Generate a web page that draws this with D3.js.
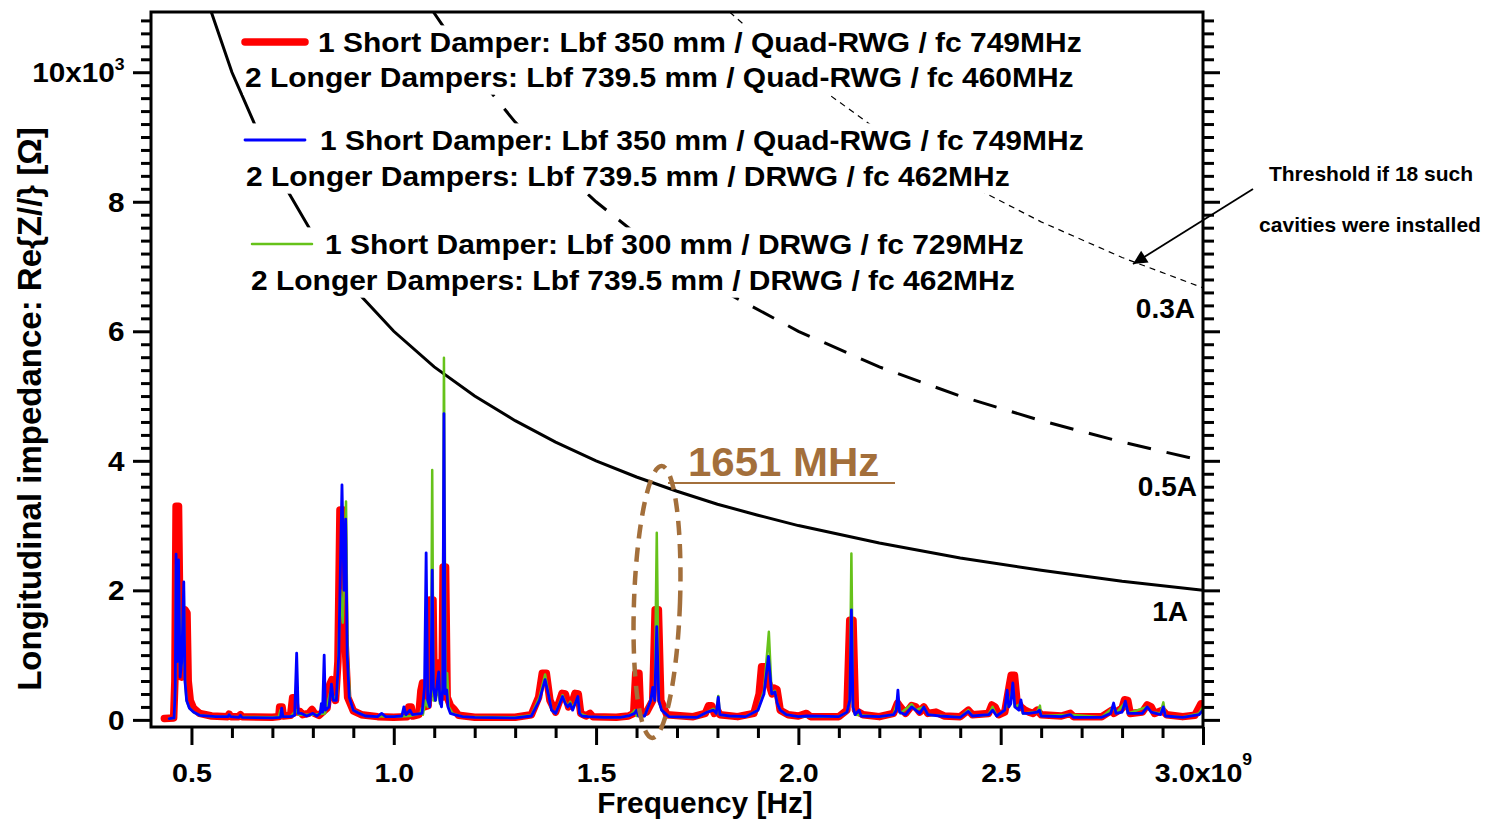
<!DOCTYPE html>
<html>
<head>
<meta charset="utf-8">
<script src="https://cdn.jsdelivr.net/npm/d3@7"></script>
<style>
body { margin: 0; background: #fff; }
text { font-family: "Liberation Sans", Arial, sans-serif; font-weight: bold; fill: #000; }
</style>
</head>
<body>
<svg id="chart" width="1497" height="822"></svg>
<script>
// frequency in GHz, Re{Z} in kOhm (axis shows x10^9 Hz / x10^3 Ohm)
var redShortQuad = [
 [0.433,0.02],[0.456,0.03],[0.459,0.6],[0.462,3.3],[0.468,3.3],[0.472,1.2],[0.476,0.66],[0.480,0.8],[0.484,1.7],[0.489,1.65],
 [0.492,0.6],[0.497,0.3],[0.505,0.18],[0.52,0.1],[0.55,0.06],[0.59,0.05],[0.593,0.09],[0.597,0.05],[0.617,0.05],[0.621,0.08],
 [0.625,0.05],[0.70,0.04],[0.716,0.05],[0.718,0.2],[0.724,0.2],[0.727,0.06],[0.745,0.07],[0.750,0.34],[0.755,0.34],[0.759,0.12],
 [0.768,0.13],[0.775,0.08],[0.790,0.1],[0.798,0.16],[0.804,0.1],[0.815,0.07],[0.835,0.18],[0.842,0.55],[0.847,0.62],[0.851,0.45],
 [0.856,0.3],[0.862,0.9],[0.867,3.24],[0.875,3.24],[0.879,1.3],[0.886,0.35],[0.90,0.14],[0.92,0.08],[0.96,0.05],[1.00,0.04],
 [1.033,0.05],[1.037,0.2],[1.043,0.2],[1.047,0.06],[1.062,0.08],[1.067,0.45],[1.071,0.57],[1.075,0.2],[1.085,0.22],[1.089,1.85],
 [1.097,1.85],[1.100,0.4],[1.104,0.8],[1.108,0.88],[1.115,0.88],[1.119,0.35],[1.122,2.36],[1.128,2.36],[1.132,0.35],[1.14,0.22],
 [1.148,0.17],[1.16,0.07],[1.20,0.04],[1.30,0.04],[1.34,0.08],[1.358,0.35],[1.367,0.72],[1.377,0.72],[1.386,0.3],[1.40,0.12],
 [1.410,0.3],[1.416,0.41],[1.424,0.4],[1.432,0.2],[1.440,0.25],[1.448,0.41],[1.456,0.4],[1.462,0.1],[1.475,0.06],[1.485,0.1],
 [1.492,0.05],[1.55,0.04],[1.58,0.06],[1.593,0.1],[1.598,0.72],[1.606,0.72],[1.610,0.1],[1.625,0.12],[1.640,0.3],[1.646,1.70],
 [1.654,1.70],[1.660,0.3],[1.675,0.08],[1.74,0.05],[1.77,0.1],[1.778,0.22],[1.786,0.22],[1.792,0.1],[1.80,0.15],[1.806,0.08],
 [1.85,0.05],[1.89,0.1],[1.903,0.4],[1.909,0.82],[1.917,0.82],[1.925,0.6],[1.935,0.4],[1.940,0.49],[1.947,0.47],[1.955,0.15],
 [1.975,0.08],[2.00,0.06],[2.02,0.1],[2.03,0.05],[2.10,0.05],[2.12,0.15],[2.127,1.54],[2.135,1.54],[2.141,0.15],[2.16,0.08],
 [2.20,0.05],[2.235,0.1],[2.245,0.26],[2.252,0.2],[2.265,0.1],[2.280,0.22],[2.290,0.2],[2.300,0.12],[2.310,0.2],[2.320,0.1],
 [2.340,0.12],[2.360,0.06],[2.40,0.05],[2.42,0.15],[2.43,0.08],[2.47,0.1],[2.478,0.23],[2.486,0.2],[2.495,0.08],[2.51,0.12],
 [2.522,0.55],[2.526,0.69],[2.534,0.69],[2.540,0.3],[2.55,0.2],[2.56,0.15],[2.57,0.12],[2.58,0.1],[2.59,0.15],[2.60,0.08],
 [2.65,0.06],[2.672,0.1],[2.68,0.05],[2.75,0.05],[2.775,0.15],[2.78,0.1],[2.80,0.18],[2.806,0.31],[2.814,0.3],[2.82,0.1],
 [2.85,0.12],[2.862,0.23],[2.872,0.2],[2.88,0.1],[2.90,0.15],[2.91,0.08],[2.95,0.05],[2.98,0.07],[2.995,0.25],[3.0,0.25]
];

var blueShortQuad = [
 [0.445,0.02],[0.457,0.03],[0.460,0.5],[0.462,2.56],[0.465,0.9],[0.468,2.47],[0.472,0.66],[0.476,0.9],[0.481,2.13],[0.484,0.6],
 [0.488,0.3],[0.495,0.18],[0.505,0.12],[0.52,0.07],[0.56,0.05],[0.59,0.05],[0.593,0.08],[0.597,0.05],[0.617,0.04],[0.621,0.07],
 [0.625,0.04],[0.70,0.03],[0.720,0.04],[0.723,0.18],[0.726,0.05],[0.745,0.05],[0.755,0.07],[0.760,1.03],[0.764,0.1],[0.772,0.1],
 [0.785,0.06],[0.800,0.1],[0.810,0.06],[0.818,0.1],[0.821,0.25],[0.824,0.12],[0.828,1.0],[0.831,0.15],[0.840,0.2],[0.846,0.55],
 [0.851,0.3],[0.858,0.3],[0.864,1.0],[0.872,3.63],[0.877,2.0],[0.881,3.1],[0.885,1.0],[0.890,0.35],[0.90,0.15],[0.915,0.1],
 [0.93,0.06],[0.96,0.05],[0.97,0.1],[0.98,0.05],[1.00,0.05],[1.02,0.06],[1.025,0.2],[1.03,0.08],[1.04,0.15],[1.046,0.08],
 [1.070,0.1],[1.076,0.5],[1.080,2.58],[1.084,0.3],[1.089,0.2],[1.092,0.5],[1.095,2.31],[1.098,0.5],[1.103,0.3],[1.108,0.6],
 [1.111,0.74],[1.114,0.3],[1.118,0.2],[1.121,0.5],[1.124,4.73],[1.127,0.4],[1.131,0.46],[1.134,0.2],[1.14,0.1],[1.15,0.08],
 [1.17,0.05],[1.20,0.04],[1.30,0.03],[1.34,0.06],[1.36,0.3],[1.374,0.62],[1.382,0.4],[1.39,0.15],[1.40,0.1],[1.41,0.25],
 [1.417,0.36],[1.424,0.25],[1.43,0.2],[1.436,0.25],[1.442,0.15],[1.455,0.36],[1.459,0.1],[1.465,0.06],[1.48,0.05],[1.52,0.04],
 [1.56,0.04],[1.58,0.06],[1.595,0.1],[1.60,0.15],[1.605,0.06],[1.62,0.06],[1.635,0.3],[1.640,0.5],[1.645,0.3],[1.650,1.44],
 [1.655,0.3],[1.662,0.15],[1.68,0.05],[1.75,0.04],[1.775,0.12],[1.79,0.15],[1.797,0.1],[1.802,0.35],[1.806,0.08],[1.83,0.06],
 [1.87,0.05],[1.90,0.15],[1.915,0.4],[1.926,0.98],[1.934,0.4],[1.942,0.43],[1.948,0.25],[1.955,0.15],[1.97,0.08],[2.00,0.05],
 [2.02,0.06],[2.10,0.05],[2.12,0.12],[2.127,0.3],[2.131,1.70],[2.135,0.2],[2.14,0.08],[2.15,0.15],[2.155,0.06],[2.20,0.05],
 [2.235,0.08],[2.242,0.15],[2.246,0.46],[2.250,0.12],[2.265,0.08],[2.28,0.2],[2.29,0.15],[2.30,0.1],[2.31,0.2],[2.32,0.08],
 [2.35,0.06],[2.40,0.04],[2.42,0.13],[2.43,0.06],[2.47,0.08],[2.48,0.15],[2.49,0.06],[2.51,0.15],[2.516,0.46],[2.520,0.2],
 [2.525,0.25],[2.530,0.57],[2.535,0.2],[2.545,0.15],[2.550,0.31],[2.555,0.1],[2.57,0.1],[2.59,0.12],[2.596,0.15],[2.60,0.06],
 [2.65,0.05],[2.672,0.08],[2.68,0.04],[2.75,0.04],[2.772,0.1],[2.779,0.26],[2.785,0.1],[2.80,0.12],[2.808,0.29],[2.815,0.1],
 [2.85,0.1],[2.862,0.2],[2.872,0.12],[2.895,0.08],[2.902,0.2],[2.907,0.06],[2.95,0.04],[2.99,0.08],[3.0,0.15]
];

var greenShortDrwg = [
 [0.445,0.02],[0.457,0.03],[0.460,0.5],[0.462,2.4],[0.465,0.9],[0.468,2.45],[0.472,0.7],[0.476,0.9],[0.481,2.0],[0.484,0.6],
 [0.488,0.3],[0.495,0.18],[0.505,0.12],[0.52,0.07],[0.56,0.05],[0.59,0.05],[0.593,0.08],[0.597,0.05],[0.70,0.04],[0.716,0.05],
 [0.720,0.15],[0.724,0.05],[0.745,0.05],[0.755,0.12],[0.760,0.15],[0.765,0.08],[0.80,0.08],[0.83,0.1],[0.846,0.5],[0.852,0.3],
 [0.860,0.4],[0.868,2.0],[0.874,1.5],[0.882,3.37],[0.886,1.0],[0.892,0.3],[0.90,0.15],[0.93,0.06],[1.00,0.05],[1.04,0.06],
 [1.066,0.1],[1.069,0.18],[1.072,0.08],[1.078,0.3],[1.084,0.2],[1.092,0.5],[1.095,3.86],[1.098,0.3],[1.104,0.3],[1.110,0.6],
 [1.114,0.25],[1.121,0.5],[1.124,5.59],[1.128,0.5],[1.132,0.72],[1.136,0.2],[1.145,0.1],[1.17,0.05],[1.30,0.04],[1.34,0.07],
 [1.36,0.35],[1.374,0.7],[1.382,0.42],[1.39,0.15],[1.40,0.1],[1.41,0.27],[1.417,0.38],[1.424,0.27],[1.43,0.2],[1.436,0.28],
 [1.442,0.18],[1.455,0.35],[1.459,0.1],[1.48,0.05],[1.56,0.04],[1.58,0.06],[1.592,0.12],[1.596,0.15],[1.60,0.06],[1.62,0.06],
 [1.635,0.3],[1.640,0.45],[1.645,0.3],[1.650,2.89],[1.655,0.3],[1.662,0.15],[1.68,0.05],[1.75,0.04],[1.775,0.12],[1.79,0.17],
 [1.797,0.1],[1.802,0.37],[1.806,0.08],[1.83,0.06],[1.87,0.05],[1.90,0.15],[1.915,0.45],[1.927,1.36],[1.934,0.4],[1.942,0.45],
 [1.948,0.25],[1.955,0.15],[1.97,0.08],[2.00,0.05],[2.10,0.05],[2.12,0.12],[2.127,0.3],[2.131,2.57],[2.135,0.2],[2.14,0.08],
 [2.20,0.05],[2.235,0.08],[2.246,0.3],[2.252,0.1],[2.28,0.24],[2.29,0.15],[2.31,0.2],[2.32,0.08],[2.40,0.04],[2.42,0.15],
 [2.43,0.06],[2.47,0.08],[2.48,0.2],[2.49,0.06],[2.51,0.15],[2.516,0.3],[2.520,0.2],[2.530,0.5],[2.535,0.2],[2.550,0.25],
 [2.555,0.1],[2.59,0.12],[2.597,0.22],[2.60,0.06],[2.672,0.08],[2.75,0.04],[2.779,0.2],[2.785,0.1],[2.808,0.27],[2.815,0.1],
 [2.862,0.2],[2.872,0.12],[2.895,0.1],[2.902,0.27],[2.907,0.06],[2.95,0.04],[2.99,0.1],[3.0,0.2]
];

// instability thresholds (1A solid, 0.5A dashed, 0.3A fine dashed)
var thr1A = [[0.549,10.93],[0.6,10.0],[0.7,8.57],[0.8,7.5],[0.9,6.67],[1.0,6.0],[1.1,5.45],[1.2,5.0],[1.3,4.62],[1.4,4.29],
 [1.5,4.0],[1.6,3.75],[1.7,3.53],[1.8,3.33],[1.9,3.16],[2.0,3.0],[2.2,2.73],[2.4,2.5],[2.6,2.31],[2.8,2.14],[3.0,2.0]];
var thr05A = [[1.098,10.93],[1.2,10.0],[1.3,9.23],[1.4,8.57],[1.5,8.0],[1.6,7.5],[1.8,6.67],[2.0,6.0],[2.2,5.45],[2.4,5.0],
 [2.6,4.62],[2.8,4.29],[3.0,4.0]];
var thr03A = [[1.83,10.93],[2.0,10.0],[2.2,9.09],[2.4,8.33],[2.6,7.69],[2.8,7.14],[3.0,6.67]];
var thrLabels = ["1A", "0.5A", "0.3A"];

var xMajorTicks = [0.5, 1.0, 1.5, 2.0, 2.5, 3.0];
var xTickLabels = ["0.5", "1.0", "1.5", "2.0", "2.5", "3.0x10"];
var yMajorTicks = [0, 2, 4, 6, 8, 10];
var yTickLabels = ["0", "2", "4", "6", "8", "10x10"];

var legendLabels = [
 ["1 Short Damper: Lbf 350 mm / Quad-RWG / fc 749MHz", "2 Longer Dampers: Lbf 739.5 mm / Quad-RWG / fc 460MHz"],
 ["1 Short Damper: Lbf 350 mm / Quad-RWG / fc 749MHz", "2 Longer Dampers: Lbf 739.5 mm / DRWG / fc 462MHz"],
 ["1 Short Damper: Lbf 300 mm / DRWG / fc 729MHz", "2 Longer Dampers: Lbf 739.5 mm / DRWG / fc 462MHz"]
];

var LEFT = 151, RIGHT = 1203, TOP = 12, BOTTOM = 727;
var BROWN = "#a36f3b";

var x = d3.scaleLinear().domain([0.4, 3.0]).range([LEFT, RIGHT]);
var y = d3.scaleLinear().domain([-0.11, 10.93]).range([BOTTOM, TOP]);

var svg = d3.select("#chart");
var defs = svg.append("defs");
defs.append("clipPath").attr("id", "plotclip")
    .append("rect").attr("x", LEFT).attr("y", TOP)
    .attr("width", RIGHT - LEFT).attr("height", BOTTOM - TOP);
defs.append("marker").attr("id", "arrowhead")
    .attr("viewBox", "0 0 10 10").attr("refX", 10).attr("refY", 5)
    .attr("markerWidth", 18).attr("markerHeight", 14)
    .attr("markerUnits", "userSpaceOnUse").attr("orient", "auto")
    .append("path").attr("d", "M0,0 L10,5 L0,10 z").attr("fill", "#000");

function label(parent, str, px, py, size, anchor, sx) {
    return parent.append("text")
        .attr("transform", "translate(" + px + "," + py + ") scale(" + (sx || 1) + ",1)")
        .attr("text-anchor", anchor)
        .style("font-size", size + "px")
        .text(str);
}

var line = d3.line().x(function(d) { return x(d[0]); }).y(function(d) { return y(d[1]); });

// threshold curves
var plot = svg.append("g").attr("clip-path", "url(#plotclip)");
plot.append("path").datum(thr1A).attr("d", line)
    .attr("fill", "none").attr("stroke", "#000").attr("stroke-width", 3);
plot.append("path").datum(thr05A).attr("d", line)
    .attr("fill", "none").attr("stroke", "#000").attr("stroke-width", 3)
    .attr("stroke-dasharray", "24,16");
plot.append("path").datum(thr03A).attr("d", line)
    .attr("fill", "none").attr("stroke", "#000").attr("stroke-width", 1.2)
    .attr("stroke-dasharray", "6,5");

// legend, each entry on an opaque box
var seriesStyle = [
    {color: "#ff0000", width: 7.5, x1: 245, x2: 305, ly: 42, t1x: 318, t1y: 52, t2x: 245, t2y: 87},
    {color: "#0000ff", width: 2.8, x1: 245, x2: 305, ly: 140, t1x: 320, t1y: 150, t2x: 246, t2y: 186},
    {color: "#66c21a", width: 2.5, x1: 252, x2: 312, ly: 244, t1x: 325, t1y: 254, t2x: 251, t2y: 290}
];
legendLabels.forEach(function(lines, i) {
    var s = seriesStyle[i];
    var g = svg.append("g");
    g.append("line").attr("x1", s.x1).attr("x2", s.x2).attr("y1", s.ly).attr("y2", s.ly)
        .attr("stroke", s.color).attr("stroke-width", s.width).attr("stroke-linecap", "round");
    label(g, lines[0], s.t1x, s.t1y, 27, "start", 1.11);
    label(g, lines[1], s.t2x, s.t2y, 27, "start", 1.11);
    var bb = g.node().getBBox();
    g.insert("rect", ":first-child")
        .attr("x", bb.x - 2).attr("y", bb.y - 2)
        .attr("width", bb.width + 6).attr("height", bb.height + 4)
        .attr("fill", "#fff");
});

// spectra: red below, green, blue on top
var spectra = svg.append("g").attr("clip-path", "url(#plotclip)");
[redShortQuad, greenShortDrwg, blueShortQuad].forEach(function(data, k) {
    var s = seriesStyle[[0, 2, 1][k]];
    spectra.append("path").datum(data).attr("d", line)
        .attr("fill", "none").attr("stroke", s.color).attr("stroke-width", s.width)
        .attr("stroke-linejoin", "round").attr("stroke-linecap", "round");
});

// axes
function styleAxis(g) {
    g.select(".domain").remove();
    g.selectAll("line").attr("stroke", "#000").attr("stroke-width", 3);
}
var xMinor = d3.range(5, 31).filter(function(i) { return i % 5 !== 0; }).map(function(i) { return i / 10; });
var yMinor = d3.range(0, 55).filter(function(i) { return i % 10 !== 0; }).map(function(i) { return i / 5; });

svg.append("g").attr("transform", "translate(0," + BOTTOM + ")")
    .call(d3.axisBottom(x).tickValues(xMinor).tickSize(11).tickFormat(""))
    .call(styleAxis);
var xAxisG = svg.append("g").attr("transform", "translate(0," + BOTTOM + ")")
    .call(d3.axisBottom(x).tickValues(xMajorTicks).tickSize(18)
        .tickFormat(function(d, i) { return xTickLabels[i]; }))
    .call(styleAxis);
xAxisG.selectAll("text").attr("y", 55).attr("dy", 0)
    .attr("transform", "scale(1.1,1)")
    .attr("font-family", null).attr("font-size", null)
    .style("font-size", "26px").style("fill", "#000");
xAxisG.selectAll("text").filter(function(d, i) { return i === xMajorTicks.length - 1; })
    .append("tspan").attr("dy", -17).style("font-size", "16px").text("9");

svg.append("g").attr("transform", "translate(" + LEFT + ",0)")
    .call(d3.axisLeft(y).tickValues(yMinor).tickSize(10).tickFormat(""))
    .call(styleAxis);
var yAxisG = svg.append("g").attr("transform", "translate(" + LEFT + ",0)")
    .call(d3.axisLeft(y).tickValues(yMajorTicks).tickSize(18)
        .tickFormat(function(d, i) { return yTickLabels[i]; }))
    .call(styleAxis);
yAxisG.selectAll("text").attr("x", -24).attr("dy", "0.35em")
    .attr("transform", "scale(1.1,1)")
    .attr("font-family", null).attr("font-size", null)
    .style("font-size", "27px").style("fill", "#000");
yAxisG.selectAll("text").filter(function(d, i) { return i === yMajorTicks.length - 1; })
    .append("tspan").attr("dy", -12).style("font-size", "16px").text("3");

svg.append("g").attr("transform", "translate(" + RIGHT + ",0)")
    .call(d3.axisRight(y).tickValues(yMinor).tickSize(11).tickFormat(""))
    .call(styleAxis);
svg.append("g").attr("transform", "translate(" + RIGHT + ",0)")
    .call(d3.axisRight(y).tickValues(yMajorTicks).tickSize(17).tickFormat(""))
    .call(styleAxis);

svg.append("rect").attr("x", LEFT).attr("y", TOP)
    .attr("width", RIGHT - LEFT).attr("height", BOTTOM - TOP)
    .attr("fill", "none").attr("stroke", "#000").attr("stroke-width", 3);

// axis titles
label(svg, "Frequency [Hz]", 705, 813, 29, "middle", 1.03);
svg.append("text")
    .attr("transform", "translate(41,409) rotate(-90)")
    .attr("text-anchor", "middle").style("font-size", "33px")
    .text("Longitudinal impedance: Re{Z//} [\u03A9]");

// threshold labels
label(svg, thrLabels[0], 1188, 621, 28, "end");
label(svg, thrLabels[1], 1197, 496, 28, "end");
label(svg, thrLabels[2], 1195, 318, 28, "end");

// note + arrow
label(svg, "Threshold if 18 such", 1371, 181, 21, "middle");
label(svg, "cavities were installed", 1370, 232, 21, "middle");
svg.append("line").attr("x1", 1253).attr("y1", 189).attr("x2", 1133).attr("y2", 264)
    .attr("stroke", "#000").attr("stroke-width", 1.8).attr("marker-end", "url(#arrowhead)");

// 1651 MHz highlight
svg.append("ellipse").attr("cx", 657).attr("cy", 602).attr("rx", 23).attr("ry", 136)
    .attr("transform", "rotate(2,657,602)")
    .attr("fill", "none").attr("stroke", BROWN).attr("stroke-width", 4.5)
    .attr("stroke-dasharray", "14,9");
svg.append("line").attr("x1", 668).attr("x2", 895).attr("y1", 483).attr("y2", 483)
    .attr("stroke", BROWN).attr("stroke-width", 2);
label(svg, "1651 MHz", 688, 476, 40, "start", 1.05).style("fill", BROWN);
</script>
</body>
</html>
